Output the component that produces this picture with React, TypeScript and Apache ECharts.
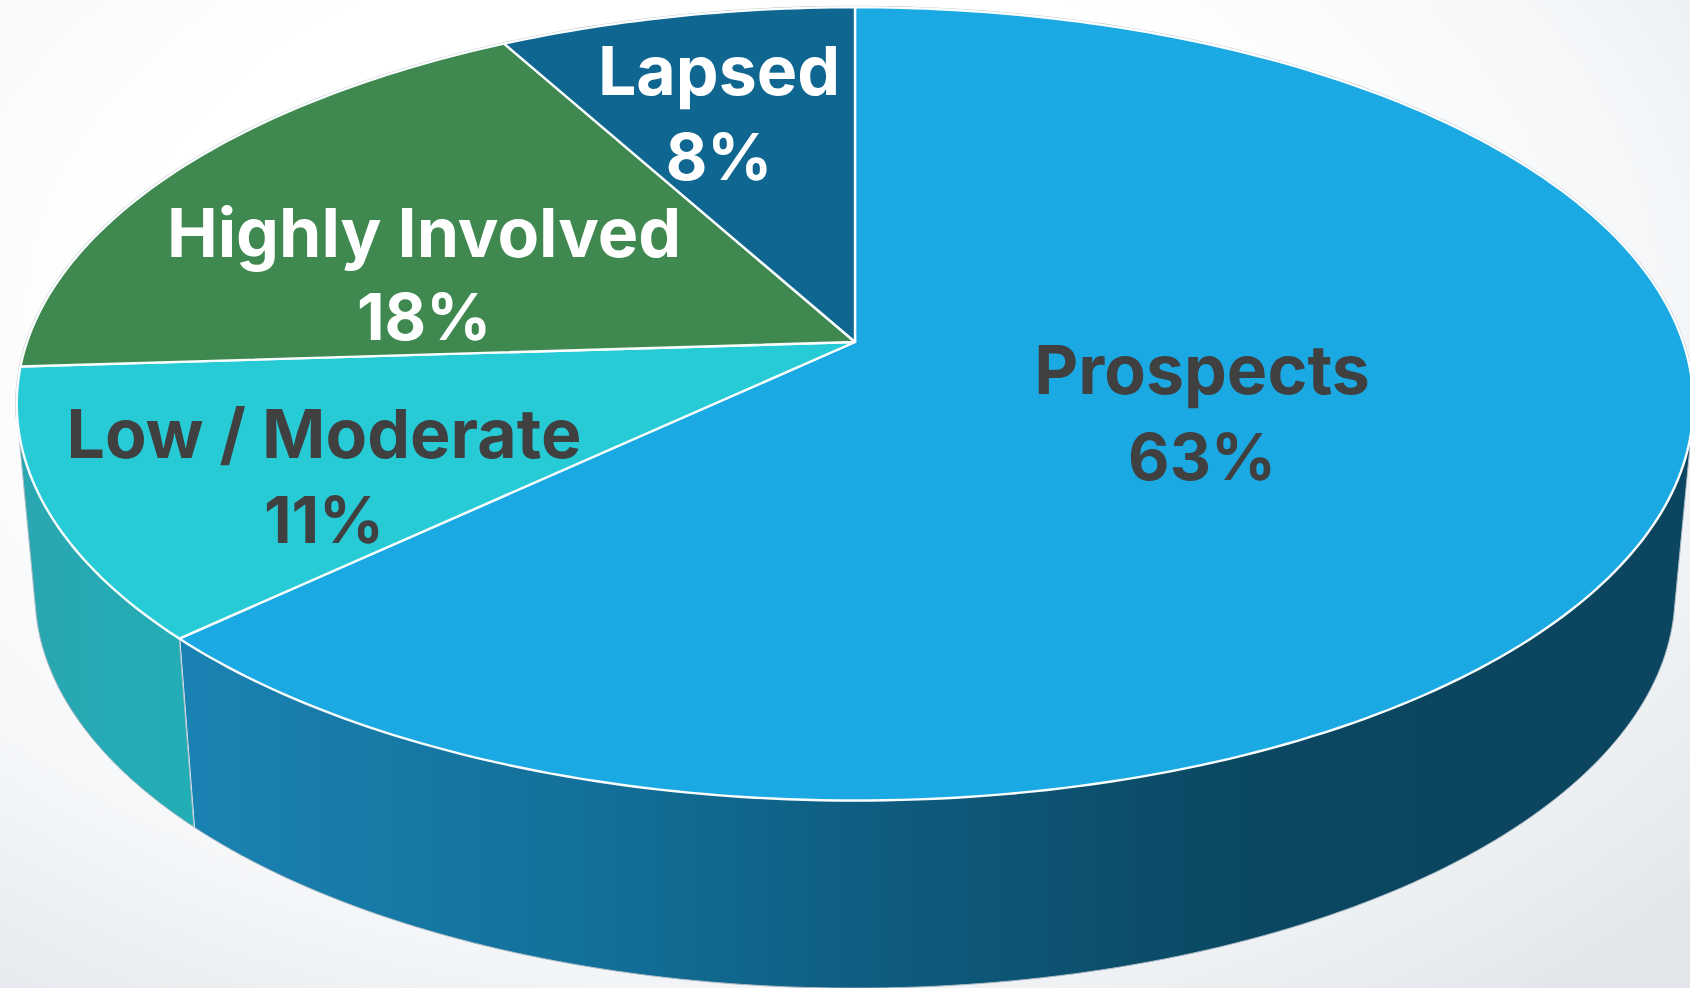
import React, { useEffect, useRef } from "react";
import * as echarts from "echarts";

const categories = ["Prospects", "Low / Moderate", "Highly Involved", "Lapsed"];
const shares = [63, 11, 18, 8];

const topColors = ["#1ba9e3", "#26cbd6", "#3f884f", "#0f6690"];
const labelColors = ["#404040", "#404040", "#ffffff", "#ffffff"];
const labelCentres = [
  [1202, 369, 456],
  [324, 433, 519],
  [424, 232, 316],
  [719, 70, 156],
];

const UPPER = { cx: 855, cy: 342, rx: 828, ry: 387, k: 0.156 };
const LOWER = { cx: 855, cy: 532, rx: 810, ry: 385, k: 0.156 };
const FONT = "Inter";

type Disc = typeof UPPER;
const project = (d: Disc, t: number): number[] => {
  const w = 1 + d.k * Math.cos(t);
  return [d.cx + (d.rx * Math.sin(t)) / w, d.cy - (d.ry * Math.cos(t)) / w];
};
const bounds = (i: number): number[] => {
  const total = shares.reduce((a, b) => a + b, 0);
  const before = shares.slice(0, i).reduce((a, b) => a + b, 0);
  return [(before / total) * 2 * Math.PI, ((before + shares[i]) / total) * 2 * Math.PI];
};
const arc = (d: Disc, a: number, b: number): number[][] => {
  const n = Math.max(8, Math.ceil((b - a) * 60));
  const out: number[][] = [];
  for (let j = 0; j <= n; j++) out.push(project(d, a + ((b - a) * j) / n));
  return out;
};
const hull = (pts: number[][]): number[][] => {
  const s = [...pts].sort((p, q) => p[0] - q[0] || p[1] - q[1]);
  const cross = (o: number[], a: number[], b: number[]) =>
    (a[0] - o[0]) * (b[1] - o[1]) - (a[1] - o[1]) * (b[0] - o[0]);
  const half = (list: number[][]) => {
    const h: number[][] = [];
    for (const p of list) {
      while (h.length >= 2 && cross(h[h.length - 2], h[h.length - 1], p) <= 0) h.pop();
      h.push(p);
    }
    h.pop();
    return h;
  };
  return [...half(s), ...half([...s].reverse())];
};

const sideFills = () => [
  new echarts.graphic.LinearGradient(
    194, 0, 1500, 0,
    [
      { offset: 0, color: "#1a82b2" },
      { offset: 0.3, color: "#13709a" },
      { offset: 0.55, color: "#0e5a7c" },
      { offset: 0.8, color: "#0b4862" },
      { offset: 1, color: "#0b4560" },
    ],
    true
  ),
  new echarts.graphic.LinearGradient(
    20, 0, 194, 0,
    [
      { offset: 0, color: "#2aa6b0" },
      { offset: 1, color: "#22aeb6" },
    ],
    true
  ),
  "#2f7040",
  "#0c5070",
];

export default function App() {
  const ref = useRef<HTMLDivElement>(null);
  useEffect(() => {
    document.body.style.margin = "0";
    const chart = echarts.init(ref.current!, undefined, { renderer: "svg" });
    const fills = sideFills();
    const data = categories.map((name, i) => ({ name, value: shares[i] }));
    chart.setOption({
      animation: false,
      tooltip: { show: false },
      series: [
        {
          type: "custom",
          coordinateSystem: "none",
          silent: true,
          z: 1,
          data,
          renderItem: (params: any) => {
            const i = params.dataIndex;
            const [a, b] = bounds(i);
            const children: any[] = [];
            if (Math.cos(a) < -0.3 || Math.cos(b) < -0.3) {
              children.push({
                type: "polygon",
                shape: { points: hull([...arc(UPPER, a, b), ...arc(LOWER, a, b)]) },
                style: { fill: fills[i], stroke: "#aebcc6", lineWidth: 1 },
              });
            }
            if (Math.cos(b) < -0.3) {
              const p = project(UPPER, b);
              const q = project(LOWER, b);
              children.push({
                type: "line",
                shape: { x1: p[0], y1: p[1], x2: q[0], y2: q[1] },
                style: { stroke: "#f2fafc", lineWidth: 2 },
              });
            }
            return { type: "group", children };
          },
        },
        {
          type: "custom",
          coordinateSystem: "none",
          silent: true,
          z: 2,
          data,
          renderItem: (params: any) => {
            const i = params.dataIndex;
            const [a, b] = bounds(i);
            return {
              type: "group",
              children: [
                {
                  type: "polyline",
                  shape: { points: arc(UPPER, a, b).filter((p) => p[1] < 420) },
                  style: { fill: "none", stroke: "#b4bcc2", lineWidth: 3 },
                },
                {
                  type: "polygon",
                  shape: { points: [[UPPER.cx, UPPER.cy], ...arc(UPPER, a, b)] },
                  style: { fill: topColors[i], stroke: "#fafdfe", lineWidth: 2.4, lineJoin: "round" },
                },
              ],
            };
          },
        },
        {
          type: "custom",
          coordinateSystem: "none",
          silent: true,
          z: 3,
          data,
          renderItem: (params: any, api: any) => {
            const i = params.dataIndex;
            const [x, y1, y2] = labelCentres[i];
            const base = {
              x,
              fill: labelColors[i],
              fontFamily: FONT,
              fontWeight: 700,
              align: "center",
              verticalAlign: "middle",
            };
            return {
              type: "group",
              children: [
                { type: "text", style: { ...base, fontSize: 68, y: y1, text: categories[i] } },
                { type: "text", style: { ...base, fontSize: 64, y: y2, text: `${api.value(0)}%` } },
              ],
            };
          },
          encode: { value: 0 },
        },
      ],
    });
    return () => chart.dispose();
  }, []);
  return (
    <div
      ref={ref}
      style={{
        position: "absolute",
        left: 0,
        top: 0,
        width: 1690,
        height: 988,
        background:
          "radial-gradient(ellipse 78% 88% at 42% 32%, #ffffff 45%, #f5f7f9 72%, #e3e7eb 100%)",
      }}
    />
  );
}
